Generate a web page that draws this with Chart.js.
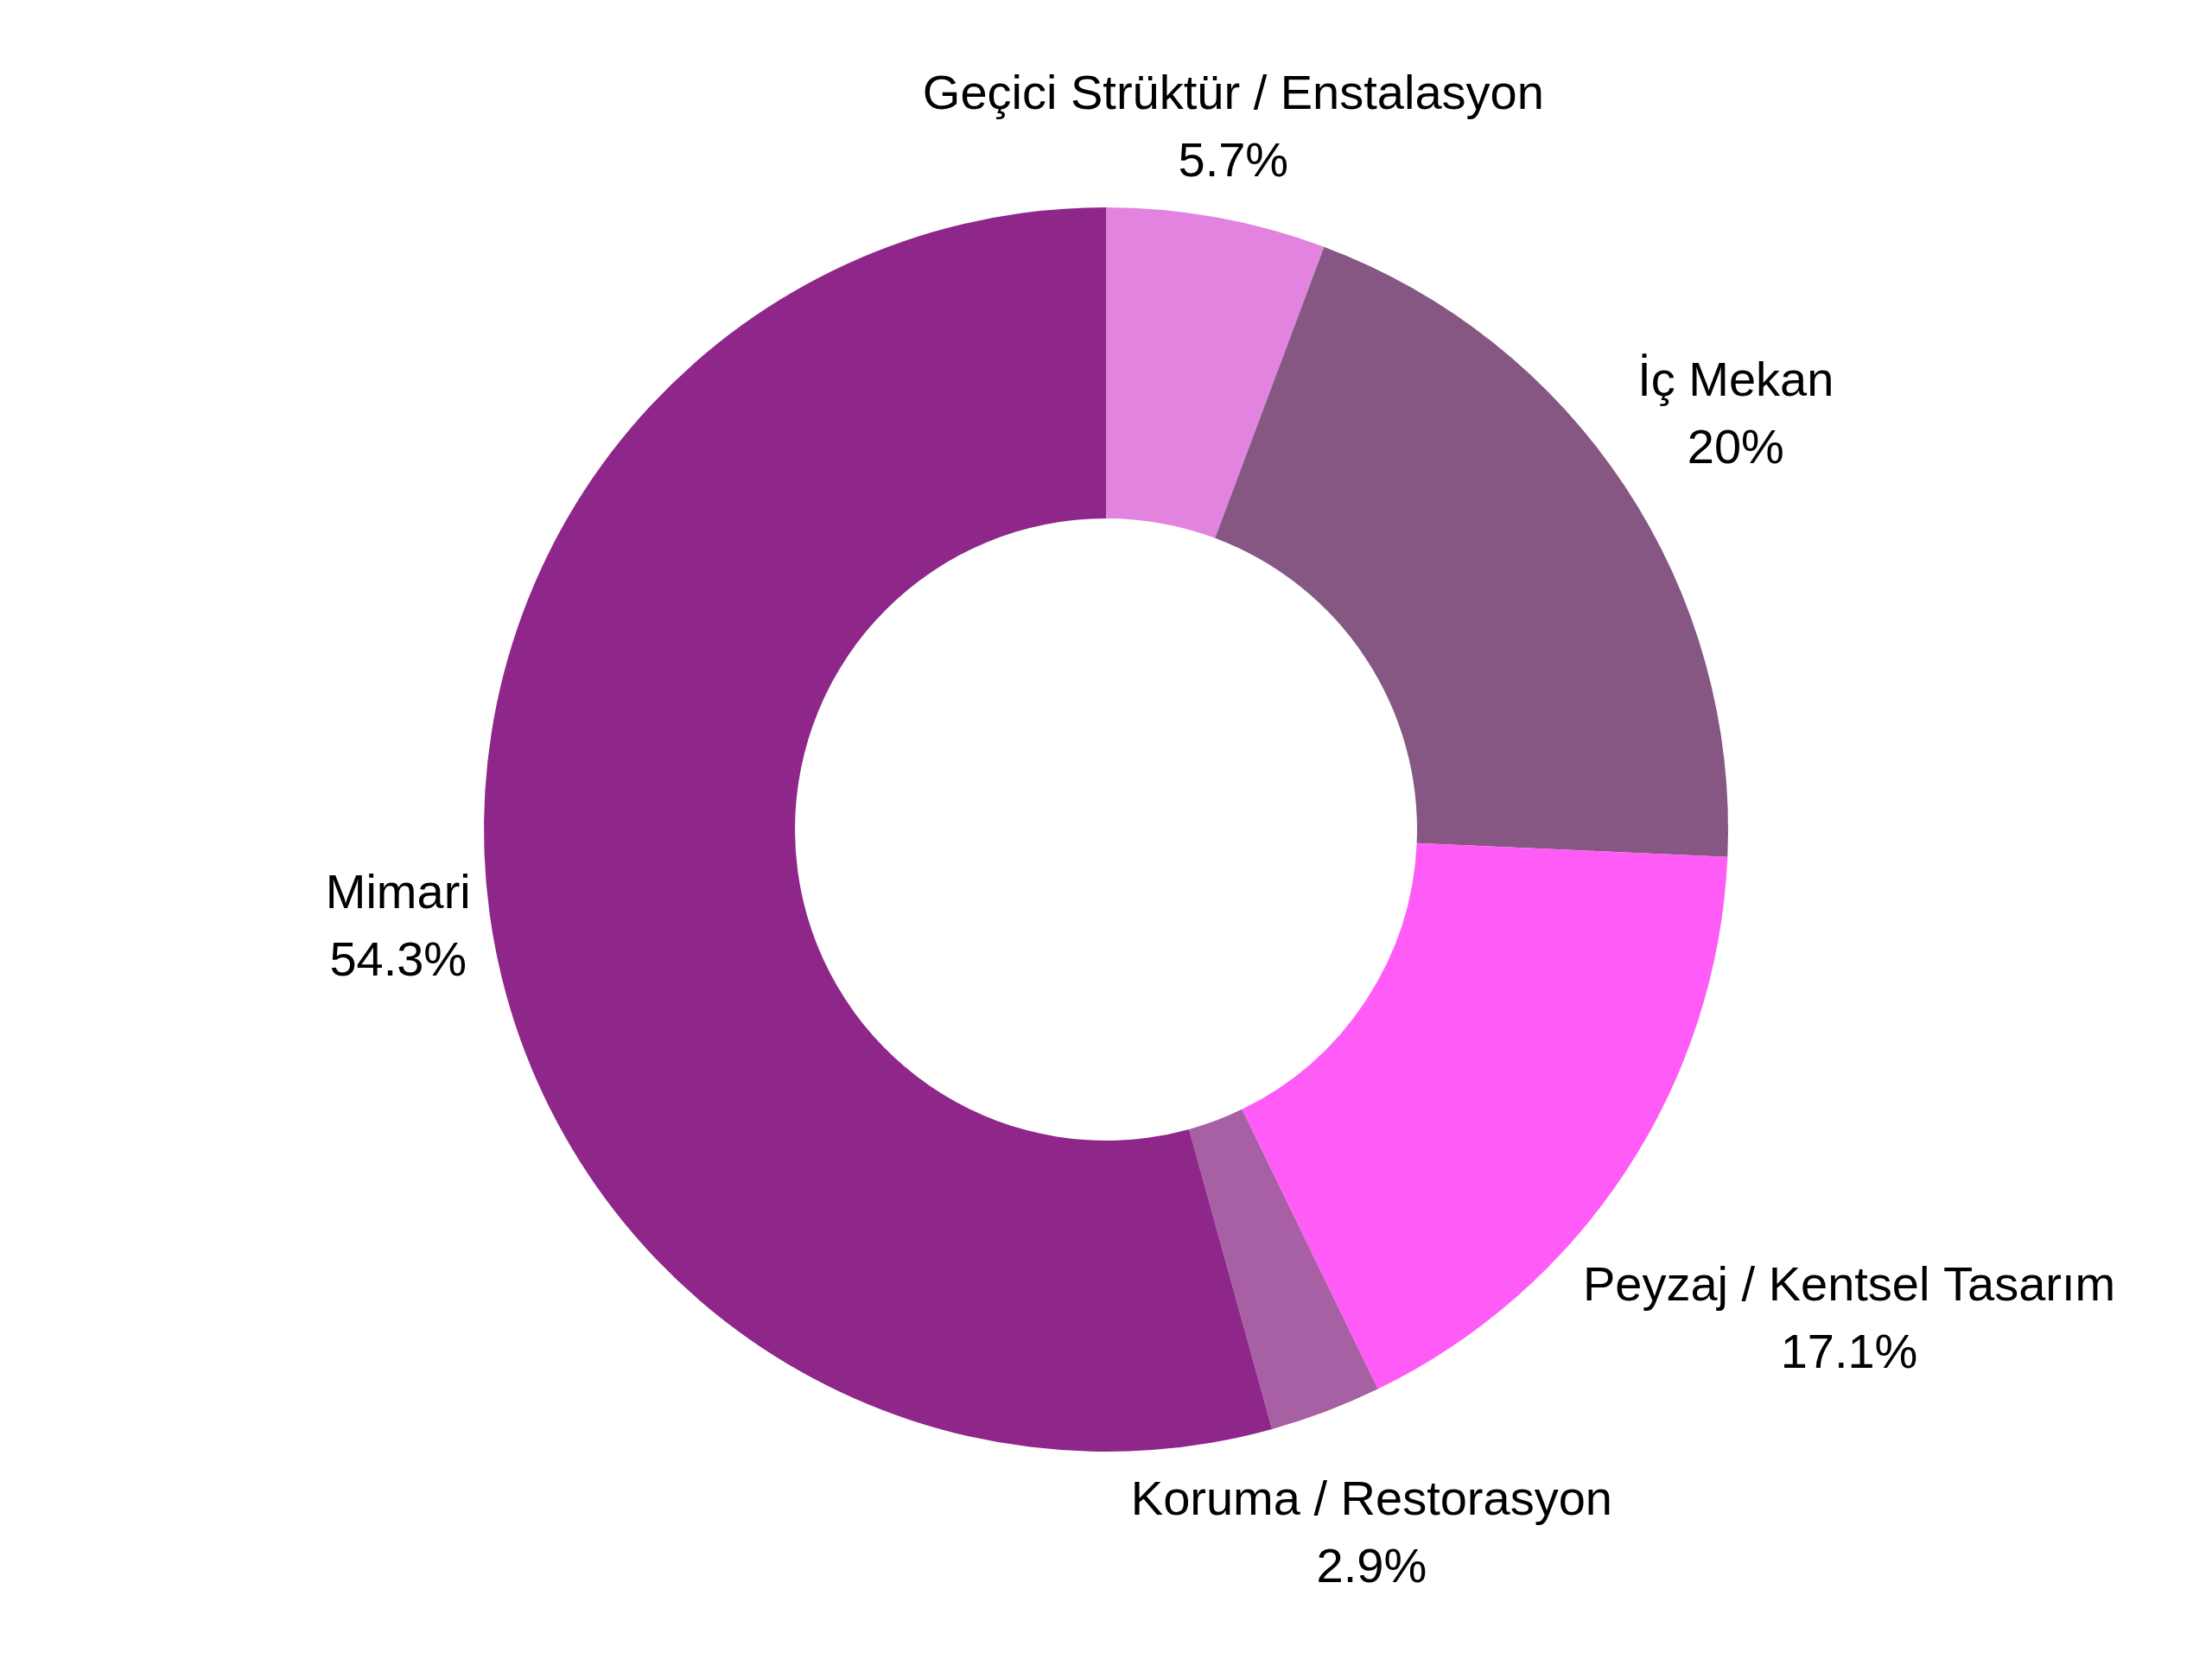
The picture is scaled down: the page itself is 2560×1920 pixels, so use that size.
<!DOCTYPE html>
<html lang="tr">
<head>
    <meta charset="UTF-8">
    <title>Proje Dağılımı</title>
    <script src="https://cdn.jsdelivr.net/npm/chart.js"></script>
    <style>
        body {
            margin: 0;
            background-color: #ffffff;
        }
        #chart-box {
            width: 2560px;
            height: 1920px;
        }
    </style>
</head>
<body>
    <div id="chart-box">
        <canvas id="donut" width="2560" height="1920"></canvas>
    </div>

    <script>
        // categories, clockwise from the top
        const categories = [
            'Geçici Strüktür / Enstalasyon',
            'İç Mekan',
            'Peyzaj / Kentsel Tasarım',
            'Koruma / Restorasyon',
            'Mimari'
        ];
        // share of each category, percent
        const shares = [5.7, 20, 17.1, 2.9, 54.3];
        const sliceColors = ['#e383e0', '#875784', '#ff5cf7', '#a660a3', '#8f278b'];

        const FONT_SIZE = 56;
        const LINE_H = 78;
        const LABEL_GAP = 16; // distance from the ring to the nearest edge of a label

        // labels sit outside, the text box pushed out along the slice's middle angle
        const outsideLabels = {
            id: 'outsideLabels',
            afterDraw(chart) {
                const ctx = chart.ctx;
                const arcs = chart.getDatasetMeta(0).data;
                ctx.save();
                ctx.font = FONT_SIZE + 'px "Liberation Sans", Arial, sans-serif';
                ctx.fillStyle = '#000000';
                ctx.textAlign = 'center';
                ctx.textBaseline = 'alphabetic';

                arcs.forEach((arc, i) => {
                    const p = arc.getProps(['x', 'y', 'startAngle', 'endAngle', 'outerRadius']);
                    const mid = (p.startAngle + p.endAngle) / 2;
                    const lines = [categories[i], shares[i] + '%'];
                    const w = Math.max(...lines.map(s => ctx.measureText(s).width));
                    const h = LINE_H * lines.length;
                    const target = p.outerRadius + LABEL_GAP;

                    // find how far out the box centre must go
                    let lo = 0, hi = p.outerRadius * 3;
                    for (let k = 0; k < 60; k++) {
                        const t = (lo + hi) / 2;
                        const dx = Math.max(Math.abs(t * Math.cos(mid)) - w / 2, 0);
                        const dy = Math.max(Math.abs(t * Math.sin(mid)) - h / 2, 0);
                        if (Math.hypot(dx, dy) < target) lo = t; else hi = t;
                    }
                    const cx = p.x + lo * Math.cos(mid);
                    const cy = p.y + lo * Math.sin(mid);
                    const top = cy - h / 2;
                    lines.forEach((s, j) => {
                        ctx.fillText(s, cx, top + j * LINE_H + 58);
                    });
                });
                ctx.restore();
            }
        };

        new Chart(document.getElementById('donut'), {
            type: 'doughnut',
            data: {
                labels: categories,
                datasets: [{
                    data: shares,
                    backgroundColor: sliceColors,
                    borderWidth: 0,
                    hoverOffset: 0
                }]
            },
            options: {
                responsive: false,
                animation: false,
                cutout: '50%',
                layout: {
                    padding: { top: 240, bottom: 240, left: 0, right: 0 }
                },
                plugins: {
                    legend: { display: false },
                    tooltip: { enabled: false }
                }
            },
            plugins: [outsideLabels]
        });
    </script>
</body>
</html>
